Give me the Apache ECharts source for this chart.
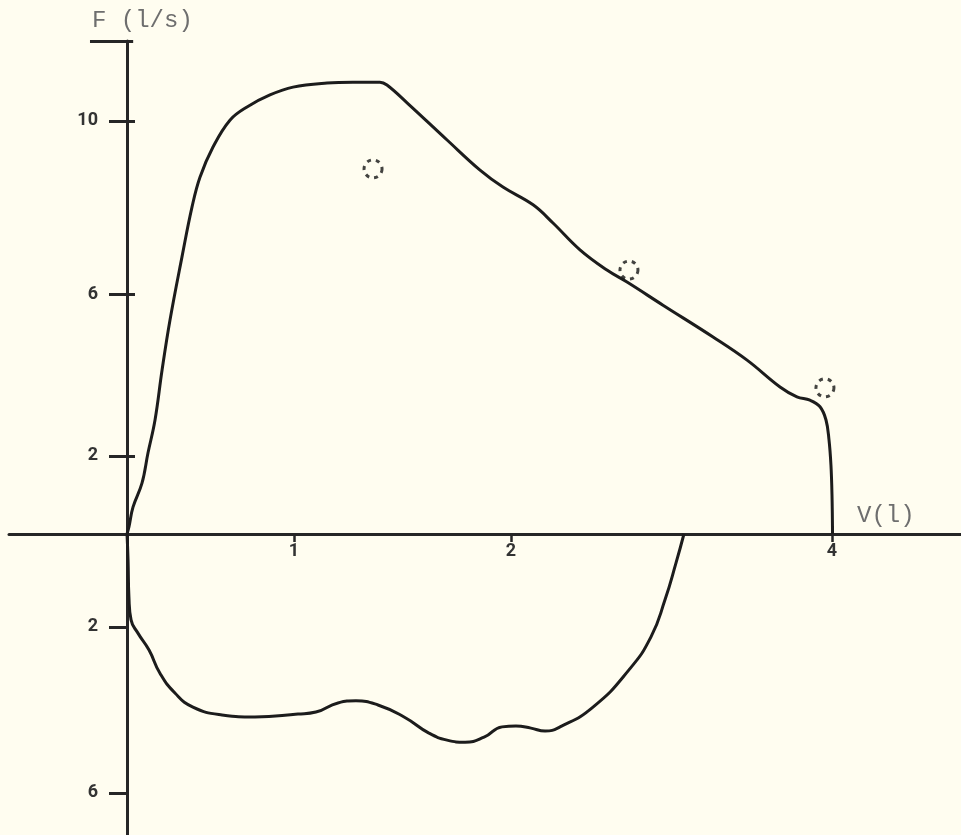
<!DOCTYPE html>
<html>
<head>
<meta charset="utf-8">
<script src="https://cdn.jsdelivr.net/npm/echarts@6/dist/echarts.min.js"></script>
<style>
  html, body { margin: 0; padding: 0; background: #fffdf0; }
  #chart { width: 961px; height: 835px; }
</style>
</head>
<body>
<div id="chart"></div>
<script>
// Expiratory limb (upper loop): [volume, flow]
const expiratoryCurve = [
  [0, 0], [0.011, 0.17], [0.034, 0.65], [0.085, 1.23], [0.119, 1.96], [0.159, 2.76],
  [0.199, 3.97], [0.244, 5.18], [0.312, 6.71], [0.369, 7.92], [0.414, 8.64],
  [0.488, 9.37], [0.584, 10.02], [0.681, 10.34], [0.811, 10.63], [0.942, 10.82],
  [1.135, 10.92], [1.282, 10.94], [1.435, 10.94], [1.475, 10.87], [1.589, 10.44],
  [1.816, 9.54], [2.003, 8.81], [2.133, 8.40], [2.304, 7.97], [2.417, 7.53],
  [2.570, 6.88], [2.723, 6.39], [2.837, 6.10], [3.041, 5.54], [3.325, 4.77],
  [3.518, 4.21], [3.705, 3.56], [3.801, 3.32], [3.875, 3.24], [3.932, 3.08],
  [3.966, 2.76], [3.983, 2.28], [3.994, 1.67], [4.000, 0.94], [4.003, 0]
];
// Inspiratory limb (lower loop): [volume, flow]
const inspiratoryCurve = [
  [0, 0], [0.006, -0.63], [0.011, -1.53], [0.023, -2.08], [0.062, -2.40],
  [0.125, -2.81], [0.187, -3.37], [0.272, -3.85], [0.374, -4.19], [0.539, -4.38],
  [0.726, -4.43], [0.970, -4.36], [1.072, -4.31], [1.197, -4.09], [1.299, -4.04],
  [1.424, -4.14], [1.572, -4.43], [1.713, -4.82], [1.816, -4.99], [1.918, -5.04],
  [2.026, -4.92], [2.128, -4.67], [2.207, -4.65], [2.292, -4.70], [2.372, -4.77],
  [2.457, -4.67], [2.644, -4.19], [2.848, -3.29], [2.973, -2.49], [3.052, -1.60],
  [3.115, -0.70], [3.160, 0]
];
// Predicted reference points (dashed circles)
const predictedPoints = [[1.396, 8.84], [2.848, 6.39], [3.960, 3.54]];

// Tick positions (as drawn) and their labels
const xTickValues = [0.947, 2.178, 4.0];
const xTickLabels = ['1', '2', '4'];
const xCrossTickValues = [4.0];
const yTickValues = [-6.27, -2.25, 1.89, 5.81, 10];
const yTickLabels = ['6', '2', '2', '6', '10'];
const yCrossTickValues = [1.89, 5.81, 10];

const xName = 'V(l)';
const yName = 'F (l/s)';

const X_MIN = -0.6695, X_MAX = 4.7319;
const Y_MIN = -7.288, Y_MAX = 11.937;

function lookup(values, labels, v) {
  for (let i = 0; i < values.length; i++) {
    if (Math.abs(values[i] - v) < 1e-6) return labels[i];
  }
  return '';
}

const GRID = { left: 9, right: 0, top: 41, bottom: 0 };
const W = 961, H = 835;
const plotW = W - GRID.left - GRID.right;
const plotH = H - GRID.top - GRID.bottom;
// pixel offsets that bring the axes onto the zero lines
const yAxisShift = plotW * (0 - X_MIN) / (X_MAX - X_MIN);
const xAxisShift = plotH * (0 - Y_MIN) / (Y_MAX - Y_MIN);

const chart = echarts.init(document.getElementById('chart'), null, { renderer: 'canvas' });
const ink = '#1c1c1c';
const axisInk = '#262626';
const labelStyle = { fontFamily: 'Roboto', fontWeight: 'bold', fontSize: 18, color: '#333' };

chart.setOption({
  backgroundColor: '#fffdf0',
  animation: false,
  title: [
    { text: yName, left: 87, top: 4,
      textStyle: { fontFamily: 'Liberation Mono', fontWeight: 'normal', fontSize: 24, color: '#6e6e6e' } },
    { text: xName, left: 852, top: 499,
      textStyle: { fontFamily: 'Liberation Mono', fontWeight: 'normal', fontSize: 24, color: '#6e6e6e' } }
  ],
  grid: Object.assign({ containLabel: false, outerBoundsMode: 'none' }, GRID),
  xAxis: [
    {
      type: 'value', position: 'bottom', offset: -xAxisShift,
      min: X_MIN, max: X_MAX,
      splitLine: { show: false },
      axisLine: { show: true, onZero: false, lineStyle: { color: axisInk, width: 3 } },
      axisTick: { show: true, customValues: xTickValues, length: 8, lineStyle: { color: axisInk, width: 2.5 } },
      axisLabel: Object.assign({
        show: true, customValues: xTickValues, margin: 8,
        formatter: v => lookup(xTickValues, xTickLabels, v)
      }, labelStyle)
    },
    {
      type: 'value', position: 'bottom', offset: -xAxisShift,
      min: X_MIN, max: X_MAX,
      splitLine: { show: false },
      axisLine: { show: false, onZero: false },
      axisTick: { show: true, inside: true, customValues: xCrossTickValues, length: 8, lineStyle: { color: axisInk, width: 2.5 } },
      axisLabel: { show: false }
    }
  ],
  yAxis: [
    {
      type: 'value', position: 'left', offset: -yAxisShift,
      min: Y_MIN, max: Y_MAX,
      splitLine: { show: false },
      axisLine: { show: true, onZero: false, lineStyle: { color: axisInk, width: 3 } },
      axisTick: { show: true, customValues: yTickValues, length: 18, lineStyle: { color: axisInk, width: 3 } },
      axisLabel: Object.assign({
        show: true, customValues: yTickValues, margin: 29,
        formatter: v => lookup(yTickValues, yTickLabels, v)
      }, labelStyle)
    },
    {
      type: 'value', position: 'left', offset: -yAxisShift,
      min: Y_MIN, max: Y_MAX,
      splitLine: { show: false },
      axisLine: { show: false, onZero: false },
      axisTick: { show: true, inside: true, customValues: yCrossTickValues, length: 8, lineStyle: { color: axisInk, width: 3 } },
      axisLabel: { show: false }
    }
  ],
  series: [
    {
      type: 'line', name: 'expiration', data: expiratoryCurve,
      showSymbol: false, smooth: 0.4, clip: false,
      lineStyle: { color: ink, width: 3 },
      markLine: {
        silent: true, symbol: ['none', 'none'], label: { show: false },
        lineStyle: { color: axisInk, width: 3, type: 'solid' },
        data: [[{ coord: [-0.21, Y_MAX] }, { coord: [0.035, Y_MAX] }]]
      }
    },
    {
      type: 'line', name: 'inspiration', data: inspiratoryCurve,
      showSymbol: false, smooth: 0.5,
      lineStyle: { color: ink, width: 3 }
    },
    {
      type: 'scatter', name: 'predicted', data: predictedPoints,
      symbol: 'circle', symbolSize: 18,
      itemStyle: { color: 'rgba(0,0,0,0)', borderColor: '#141414', borderWidth: 3, borderType: [4, 5] }
    }
  ]
});
</script>
</body>
</html>
